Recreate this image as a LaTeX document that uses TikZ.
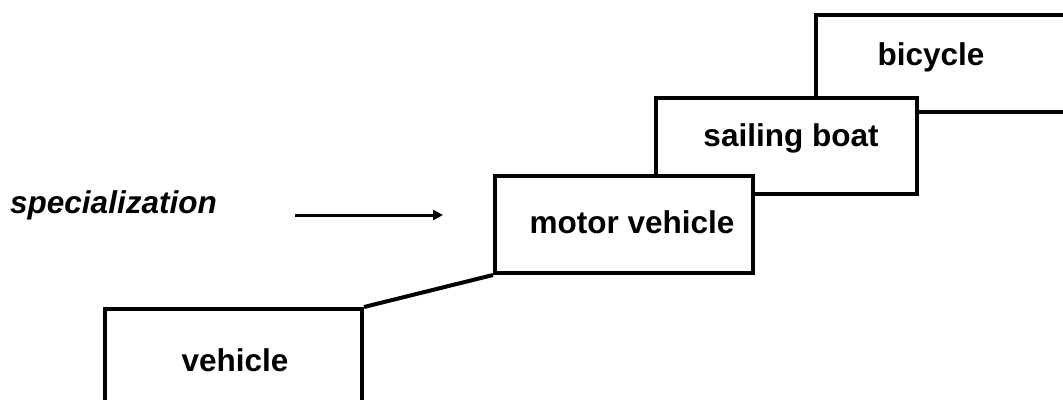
\documentclass[tikz,border=0pt]{standalone}
\usepackage{fontspec}
\setmainfont{Liberation Sans}
\usetikzlibrary{arrows.meta}
\begin{document}
\begin{tikzpicture}[x=1pt,y=-1pt,
  box/.style={draw=black,line width=4pt,fill=white,rectangle,inner sep=0pt,anchor=north west},
  lbl/.style={font=\fontsize{31.5}{36}\selectfont\bfseries,inner sep=0pt}]
\useasboundingbox (0,0) rectangle (1063,399);
\begin{scope}
\clip (0,0) rectangle (1063,399);
\node[box,minimum width=266pt,minimum height=97pt] (bic) at (814,13) {};
\node[box,minimum width=261pt,minimum height=96pt] (sail) at (654,96) {};
\node[box,minimum width=258pt,minimum height=97pt] (mot) at (493,174) {};
\node[box,minimum width=257pt,minimum height=120pt] (veh) at (103,307) {};
\end{scope}
\node[lbl] (tbic) at (931,57) {bicycle};
\node[lbl] (tsail) at (791,138) {sailing boat};
\node[lbl] (tmot) at (632,222) {motor vehicle};
\node[lbl] (tveh) at (235,360) {vehicle};
\draw[line width=4pt] (veh.north east) -- (mot.south west);
\node[lbl,font=\fontsize{31.5}{36}\selectfont\bfseries\itshape,anchor=west] (spec) at (10,205) {specialization};
\coordinate (a1) at (295,215);
\coordinate (a2) at (443,215);
\draw[line width=3pt,-{Triangle[length=10pt,width=10pt]}] (a1) -- (a2);
\end{tikzpicture}
\end{document}
